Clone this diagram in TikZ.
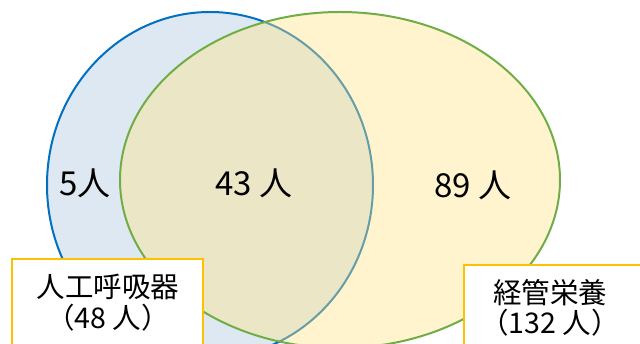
\documentclass[tikz,border=0pt]{standalone}
\usepackage{fontspec}
\setmainfont{Noto Sans CJK JP}
\definecolor{bluefill}{RGB}{222,232,243}
\definecolor{bluestroke}{RGB}{0,112,192}
\definecolor{yelfill}{RGB}{255,227,132}
\definecolor{greenstroke}{RGB}{112,173,71}
\definecolor{boxborder}{RGB}{255,192,0}
\begin{document}
\begin{tikzpicture}[x=1pt,y=-1pt,
  numlabel/.style={font=\fontsize{33}{36}\selectfont, inner sep=0pt},
  boxtext/.style={font=\fontsize{28.5}{31}\selectfont, inner sep=0pt},
  labelbox/.style={draw=boxborder, line width=2pt, fill=white}]
\useasboundingbox (0,0) rectangle (640,344);
\clip (0,0) rectangle (640,344);
% blue circle (ventilator)
\draw[fill=bluefill, draw=bluestroke, line width=2pt] (210,185) ellipse [x radius=163, y radius=173];
% green circle (tube feeding)
\fill[yelfill, fill opacity=0.4] (340,180) ellipse [x radius=220, y radius=168];
\draw[greenstroke, line width=2pt] (340,180) ellipse [x radius=220, y radius=168];
% counts
\node[numlabel] (a) at (85,183) {5人};
\node[numlabel] (b) at (254,183) {43 人};
\node[numlabel] (c) at (473,185) {89 人};
% label boxes
\draw[labelbox] (12,360) -- (12,259) -- (203,259) -- (203,360);
\node[boxtext] (l1) at (108,287) {人工呼吸器};
\node[boxtext] (l2) at (108,318) {（48 人）};
\draw[labelbox] (464,360) -- (464,265) -- (660,265);
\node[boxtext] (r1) at (550,293) {経管栄養};
\node[boxtext] (r2) at (550,323) {（132 人）};
\end{tikzpicture}
\end{document}
